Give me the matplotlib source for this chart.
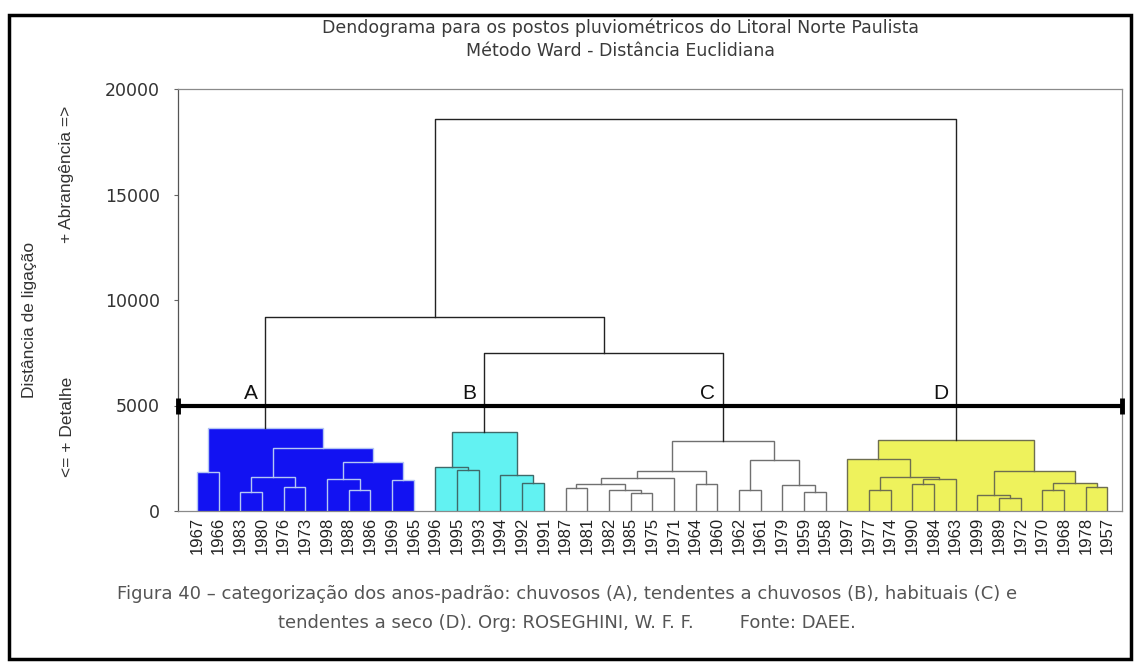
import matplotlib
matplotlib.use("Agg")
import matplotlib.pyplot as plt
from matplotlib.patches import Rectangle
import matplotlib.transforms as mtransforms

# ---------------- data ----------------
leaf_labels = ["1967", "1966", "1983", "1980", "1976", "1973", "1998", "1988", "1986", "1969", "1965",
               "1996", "1995", "1993", "1994", "1992", "1991",
               "1987", "1981", "1982", "1985", "1975", "1971", "1964", "1960", "1962", "1961", "1979", "1959", "1958",
               "1997", "1977", "1974", "1990", "1984", "1963", "1999", "1989", "1972", "1970", "1968", "1978", "1957"]

# merges: (child_a, child_b, linkage distance); str = leaf label, int = earlier merge index
merges_A = [("1983", "1980", 900), ("1976", "1973", 1150), (0, 1, 1600), ("1988", "1986", 1000),
            ("1998", 3, 1500), ("1969", "1965", 1450), (4, 5, 2300), (2, 6, 3000),
            ("1967", "1966", 1850), (8, 7, 3950)]
merges_B = [("1995", "1993", 1950), ("1996", 10, 2100), ("1992", "1991", 1350), ("1994", 12, 1700),
            (11, 13, 3750)]
merges_C = [("1987", "1981", 1100), ("1985", "1975", 850), ("1982", 16, 1000), (15, 17, 1300),
            (18, "1971", 1550), ("1964", "1960", 1300), (19, 20, 1900), ("1962", "1961", 1000),
            ("1959", "1958", 900), ("1979", 23, 1250), (22, 24, 2400), (21, 25, 3300)]
merges_D = [("1977", "1974", 1000), ("1990", "1984", 1300), (28, "1963", 1500), (27, 29, 1600),
            ("1997", 30, 2450), ("1989", "1972", 600), ("1999", 32, 750), ("1970", "1968", 1000),
            ("1978", "1957", 1150), (34, 35, 1350), (33, 36, 1900), (31, 37, 3350)]
merges_top = [(14, 26, 7500), (9, 39, 9200), (40, 38, 18600)]

cluster_letters = ["A", "B", "C", "D"]
threshold = 5000
yticks = [0, 5000, 10000, 15000, 20000]

title_lines = ["Dendograma para os postos pluviométricos do Litoral Norte Paulista",
               "Método Ward - Distância Euclidiana"]
ylabel_main = "Distância de ligação"
ylabel_low = "<= + Detalhe"
ylabel_high = "+ Abrangência =>"
caption_1 = "Figura 40 – categorização dos anos-padrão: chuvosos (A), tendentes a chuvosos (B), habituais (C) e"
caption_2 = "tendentes a seco (D). Org: ROSEGHINI, W. F. F.        Fonte: DAEE."

# ---------------- styles ----------------
groups = [(merges_A, "#1212f2", "#b4c6f4"),
          (merges_B, "#62f2f2", "#3f6a6a"),
          (merges_C, "#ffffff", "#707070"),
          (merges_D, "#eef25c", "#6e6e50")]
top_line_color = "#222222"

all_merges = merges_A + merges_B + merges_C + merges_D + merges_top
leaf_pos = {lab: i for i, lab in enumerate(leaf_labels)}

node_x, node_h = [], []


def child(c):
    if isinstance(c, str):
        return leaf_pos[c], 0.0
    return node_x[c], node_h[c]


for a, b, h in all_merges:
    xa, _ = child(a)
    xb, _ = child(b)
    node_x.append((xa + xb) / 2)
    node_h.append(h)

fig = plt.figure(figsize=(11.35, 6.64), dpi=100)
ax = fig.add_axes([178 / 1135, 1 - 511 / 664, (1122 - 178) / 1135, (511 - 89) / 664])
ax.set_xlim(-0.876, 42.67)
ax.set_ylim(0, 20000)

# fills + lines per cluster
start = 0
cluster_tops = []
for merges, fill, lcol in groups:
    idxs = range(start, start + len(merges))
    for k in idxs:
        a, b, h = all_merges[k]
        xa, ha = child(a)
        xb, hb = child(b)
        ax.add_patch(Rectangle((xa, 0), xb - xa, h, facecolor=fill, edgecolor="none", zorder=1))
    for k in idxs:
        a, b, h = all_merges[k]
        xa, ha = child(a)
        xb, hb = child(b)
        ax.plot([xa, xa, xb, xb], [ha, h, h, hb], color=lcol, lw=1.0, zorder=2,
                solid_joinstyle="miter")
    cluster_tops.append(start + len(merges) - 1)
    start += len(merges)

for k in range(start, len(all_merges)):
    a, b, h = all_merges[k]
    xa, ha = child(a)
    xb, hb = child(b)
    ax.plot([xa, xa, xb, xb], [ha, h, h, hb], color=top_line_color, lw=1.0, zorder=2)

# threshold line
ax.axhline(threshold, color="black", lw=3, zorder=4)
trans = mtransforms.blended_transform_factory(ax.transAxes, ax.transData)
ax.plot([0, 1], [threshold, threshold], ls="none", marker="|", ms=12, mew=3.5,
        color="black", transform=trans, clip_on=False, zorder=5)

for letter, k in zip(cluster_letters, cluster_tops):
    ax.text(node_x[k] - 0.35, threshold + 120, letter, ha="right", va="bottom",
            fontsize=15, family="Liberation Sans", color="#111111", zorder=6)

# axes styling
ax.set_yticks(yticks)
ax.set_yticklabels([str(v) for v in yticks], family="DejaVu Sans", fontsize=12.5, color="#333333")
ax.set_xticks(range(len(leaf_labels)))
ax.set_xticklabels(leaf_labels, rotation=90, family="Liberation Sans", fontsize=12, color="#222222")
ax.tick_params(axis="x", length=0, pad=4)
ax.tick_params(axis="y", length=3, pad=10, color="#666666")
for s in ["top", "right", "bottom"]:
    ax.spines[s].set_color("#8a8a8a")
    ax.spines[s].set_linewidth(0.9)
ax.spines["left"].set_color("#555555")
ax.spines["left"].set_linewidth(0.9)

# titles and labels
fig.text(620 / 1135, 1 - 28 / 664, title_lines[0], ha="center", va="center",
         family="DejaVu Sans", fontsize=12.5, color="#3a3a3a")
fig.text(620 / 1135, 1 - 51 / 664, title_lines[1], ha="center", va="center",
         family="DejaVu Sans", fontsize=12.5, color="#3a3a3a")
fig.text(30 / 1135, 1 - 320 / 664, ylabel_main, rotation=90, ha="center", va="center",
         family="Liberation Sans", fontsize=12.5, color="#333333")
fig.text(67 / 1135, 1 - 174 / 664, ylabel_high, rotation=90, ha="center", va="center",
         family="Liberation Sans", fontsize=12.5, color="#333333")
fig.text(67 / 1135, 1 - 427 / 664, ylabel_low, rotation=90, ha="center", va="center",
         family="Liberation Sans", fontsize=12.5, color="#333333")
fig.text(567 / 1135, 1 - 594 / 664, caption_1, ha="center", va="center",
         family="DejaVu Sans", fontsize=13, color="#555555")
fig.text(567 / 1135, 1 - 623 / 664, caption_2, ha="center", va="center",
         family="DejaVu Sans", fontsize=13, color="#555555")

# outer frame
fig.add_artist(Rectangle((9 / 1135, 1 - 659 / 664), (1131 - 9) / 1135, (659 - 15) / 664,
                         transform=fig.transFigure, fill=False, edgecolor="black", lw=2.5))

fig.savefig("out.png", dpi=100)
